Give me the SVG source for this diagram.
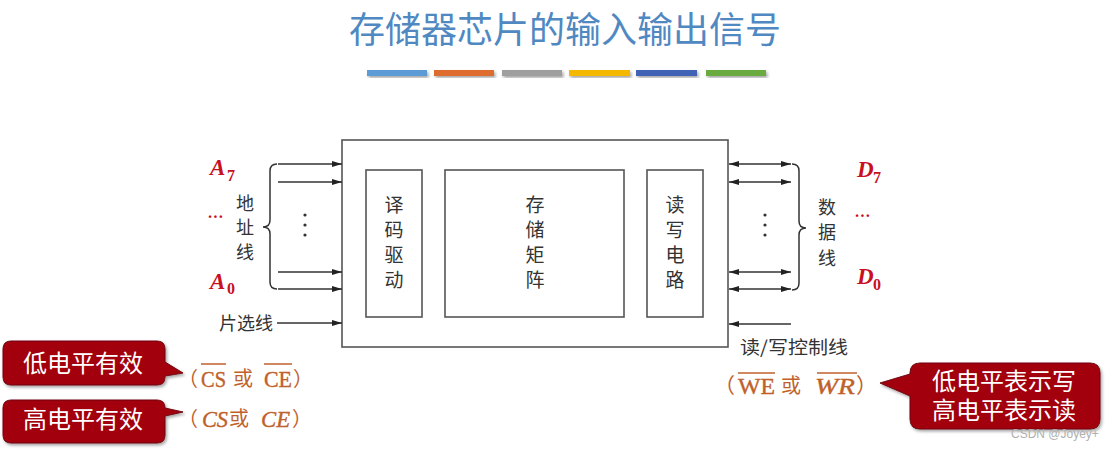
<svg xmlns="http://www.w3.org/2000/svg" width="1105" height="450" viewBox="0 0 1105 450">
<style>
.cjk{font-family:"Noto Sans CJK SC","Noto Sans",sans-serif;}
.blk{fill:#333;font-size:19px;}
.lbl{fill:#333;font-size:18px;}
.red{fill:#c8101e;font-family:"Liberation Serif",serif;font-weight:bold;font-style:italic;}
.sub{font-style:normal;}
.brn{fill:#c0612b;}
.ser{font-family:"Liberation Serif",serif;stroke:#c0612b;stroke-width:0.4;}
.wht{fill:#ffffff;font-size:24px;}
.box{fill:none;stroke:#555;stroke-width:1.6;}
.ln{stroke:#333;stroke-width:1.5;fill:none;}
.ov{stroke:#c0612b;stroke-width:1.5;}
.call{fill:#a3000f;stroke:#6e0a14;stroke-width:1;}
</style>
<defs>
<marker id="ah" markerWidth="10" markerHeight="6" refX="10" refY="3" orient="auto-start-reverse" markerUnits="userSpaceOnUse">
<path d="M0,0 L10,3 L0,6 Z" fill="#222"/>
</marker>
<filter id="sh" x="-10%" y="-10%" width="130%" height="140%">
<feDropShadow dx="1.5" dy="2" stdDeviation="1.5" flood-color="#000" flood-opacity="0.35"/>
</filter>
</defs>
<rect width="1105" height="450" fill="#ffffff"/>

<g id="title">
<text x="565" y="43" text-anchor="middle" class="cjk" font-size="36" fill="#5088c2" textLength="432" lengthAdjust="spacingAndGlyphs">存储器芯片的输入输出信号</text>
<g filter="url(#sh)">
<rect x="367" y="70" width="60" height="6" fill="#5b9bd5"/>
<rect x="434" y="70" width="60" height="6" fill="#dd6c2e"/>
<rect x="502" y="70" width="60" height="6" fill="#9f9f9f"/>
<rect x="569" y="70" width="61" height="6" fill="#f5b800"/>
<rect x="636" y="70" width="61" height="6" fill="#3f63b5"/>
<rect x="706" y="70" width="60" height="6" fill="#6aab40"/>
</g>
</g>

<g id="chip">
<rect x="342" y="140" width="386" height="207" class="box"/>
</g>
<g id="decoder">
<rect x="366" y="170" width="56" height="147" class="box"/>
<text class="cjk blk" text-anchor="middle" x="394" y="211.5">译</text>
<text class="cjk blk" text-anchor="middle" x="394" y="237">码</text>
<text class="cjk blk" text-anchor="middle" x="394" y="262">驱</text>
<text class="cjk blk" text-anchor="middle" x="394" y="287">动</text>
</g>
<g id="matrix">
<rect x="445" y="170" width="179" height="147" class="box"/>
<text class="cjk blk" text-anchor="middle" x="535" y="211.5">存</text>
<text class="cjk blk" text-anchor="middle" x="535" y="237">储</text>
<text class="cjk blk" text-anchor="middle" x="535" y="262">矩</text>
<text class="cjk blk" text-anchor="middle" x="535" y="287">阵</text>
</g>
<g id="rwcircuit">
<rect x="647" y="170" width="56" height="147" class="box"/>
<text class="cjk blk" text-anchor="middle" x="675" y="211.5">读</text>
<text class="cjk blk" text-anchor="middle" x="675" y="237">写</text>
<text class="cjk blk" text-anchor="middle" x="675" y="262">电</text>
<text class="cjk blk" text-anchor="middle" x="675" y="287">路</text>
</g>

<g id="connectors">
<line x1="278" y1="164" x2="342" y2="164" class="ln" marker-end="url(#ah)"/>
<line x1="278" y1="182" x2="342" y2="182" class="ln" marker-end="url(#ah)"/>
<line x1="278" y1="272" x2="342" y2="272" class="ln" marker-end="url(#ah)"/>
<line x1="278" y1="289" x2="342" y2="289" class="ln" marker-end="url(#ah)"/>
<line x1="277" y1="323" x2="342" y2="323" class="ln" marker-end="url(#ah)"/>
<line x1="729" y1="164" x2="791" y2="164" class="ln" marker-start="url(#ah)" marker-end="url(#ah)"/>
<line x1="729" y1="182" x2="791" y2="182" class="ln" marker-start="url(#ah)" marker-end="url(#ah)"/>
<line x1="729" y1="272" x2="791" y2="272" class="ln" marker-start="url(#ah)" marker-end="url(#ah)"/>
<line x1="729" y1="289" x2="791" y2="289" class="ln" marker-start="url(#ah)" marker-end="url(#ah)"/>
<line x1="791" y1="324" x2="729" y2="324" class="ln" marker-end="url(#ah)"/>
<path d="M277,164 Q270,164 270,171 L270,220 Q270,227 263,227 Q270,227 270,234 L270,282 Q270,289 277,289" class="ln"/>
<path d="M792,164 Q799,164 799,171 L799,221 Q799,228 806,228 Q799,228 799,235 L799,283 Q799,290 792,290" class="ln"/>
<g fill="#333">
<circle cx="305" cy="215" r="1.6"/><circle cx="305" cy="225" r="1.6"/><circle cx="305" cy="235" r="1.6"/>
<circle cx="765" cy="215" r="1.6"/><circle cx="765" cy="225" r="1.6"/><circle cx="765" cy="235" r="1.6"/>
</g>
</g>

<g id="address-labels">
<text class="cjk lbl" text-anchor="middle" x="245" y="210">地</text>
<text class="cjk lbl" text-anchor="middle" x="245" y="234">址</text>
<text class="cjk lbl" text-anchor="middle" x="245" y="259">线</text>
<text class="red" x="210" y="175" font-size="23">A</text>
<text class="red sub" x="227" y="181" font-size="16">7</text>
<text class="red" x="208" y="218" font-size="16">…</text>
<text class="red" x="210" y="289" font-size="23">A</text>
<text class="red sub" x="227" y="294" font-size="16">0</text>
<text class="cjk lbl" text-anchor="end" x="273" y="330">片选线</text>
</g>

<g id="data-labels">
<text class="cjk lbl" text-anchor="middle" x="827" y="214">数</text>
<text class="cjk lbl" text-anchor="middle" x="827" y="239">据</text>
<text class="cjk lbl" text-anchor="middle" x="827" y="265">线</text>
<text class="red" x="857" y="177" font-size="23">D</text>
<text class="red sub" x="873" y="183" font-size="16">7</text>
<text class="red" x="855" y="217" font-size="16">…</text>
<text class="red" x="857" y="284" font-size="23">D</text>
<text class="red sub" x="873" y="290" font-size="16">0</text>
<text class="cjk lbl" x="740" y="354" textLength="108" lengthAdjust="spacingAndGlyphs">读/写控制线</text>
</g>

<g id="cs-low">
<text class="cjk brn" x="178" y="386" font-size="20">（</text>
<text class="ser brn" x="201" y="387" font-size="24" textLength="25" lengthAdjust="spacingAndGlyphs">CS</text>
<text class="cjk brn" x="233" y="386" font-size="20">或</text>
<text class="ser brn" x="264" y="387" font-size="24" textLength="28" lengthAdjust="spacingAndGlyphs">CE</text>
<text class="cjk brn" x="293" y="386" font-size="20">）</text>
<line x1="201" y1="364" x2="226" y2="364" class="ov"/>
<line x1="264" y1="364" x2="292" y2="364" class="ov"/>
</g>
<g id="cs-high">
<text class="cjk brn" x="178" y="426" font-size="20">（</text>
<text class="ser brn" x="202" y="427" font-size="24" font-style="italic" textLength="26" lengthAdjust="spacingAndGlyphs">CS</text>
<text class="cjk brn" x="229" y="426" font-size="20">或</text>
<text class="ser brn" x="261" y="427" font-size="24" font-style="italic" textLength="29" lengthAdjust="spacingAndGlyphs">CE</text>
<text class="cjk brn" x="292" y="426" font-size="20">）</text>
</g>
<g id="we">
<text class="cjk brn" x="714" y="393" font-size="21">（</text>
<text class="ser brn" x="738" y="394" font-size="24" textLength="37" lengthAdjust="spacingAndGlyphs">WE</text>
<text class="cjk brn" x="781" y="393" font-size="20">或</text>
<text class="ser brn" x="815" y="394" font-size="24" font-style="italic" textLength="40" lengthAdjust="spacingAndGlyphs">WR</text>
<text class="cjk brn" x="856" y="393" font-size="21">）</text>
<line x1="738" y1="373" x2="775" y2="373" class="ov"/>
<line x1="817" y1="373" x2="857" y2="373" class="ov"/>
</g>

<g id="callout-low">
<path d="M11,341 H157 Q165,341 165,349 V362 L183,373 L165,376 V377 Q165,385 157,385 H11 Q3,385 3,377 V349 Q3,341 11,341 Z" class="call" filter="url(#sh)"/>
<text class="cjk wht" text-anchor="middle" x="83" y="372">低电平有效</text>
</g>
<g id="callout-high">
<path d="M11,400 H157 Q165,400 165,408 L183,412 L165,416 V435 Q165,443 157,443 H11 Q3,443 3,435 V408 Q3,400 11,400 Z" class="call" filter="url(#sh)"/>
<text class="cjk wht" text-anchor="middle" x="83" y="428">高电平有效</text>
</g>
<g id="callout-rw">
<path d="M920,363 H1090 Q1100,363 1100,373 V419 Q1100,429 1090,429 H920 Q910,429 910,419 V396 L880,383 L910,374 V373 Q910,363 920,363 Z" class="call" filter="url(#sh)"/>
<text class="cjk wht" text-anchor="middle"><tspan x="1004" y="390">低电平表示写</tspan><tspan x="1004" y="419">高电平表示读</tspan></text>
</g>
<text x="1011" y="438" font-family="'Liberation Sans',sans-serif" font-size="12" fill="#b0b0b0">CSDN @Joyey+</text>
</svg>
